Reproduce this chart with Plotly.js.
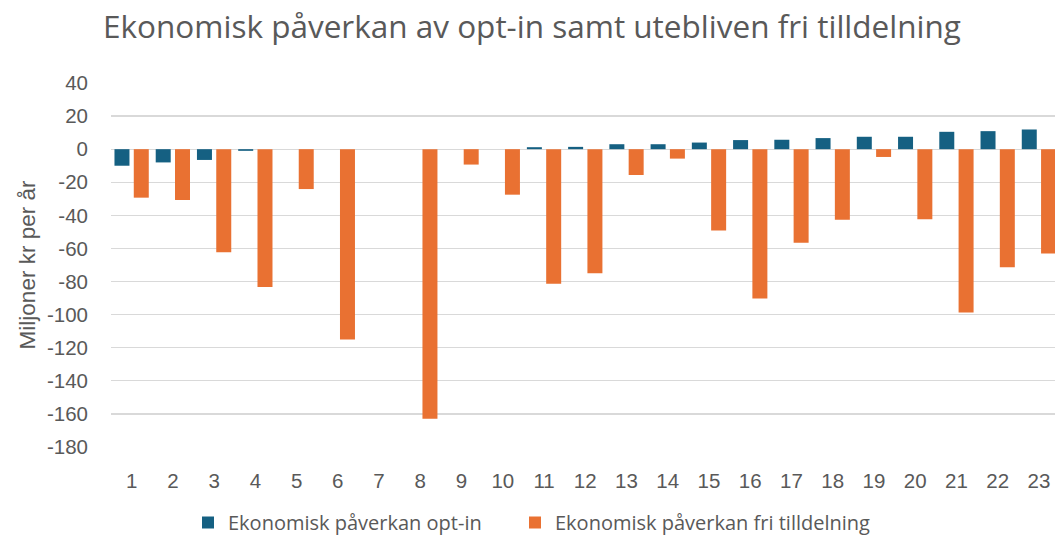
<!DOCTYPE html>
<html>
<head>
<meta charset="utf-8">
<script src="https://cdn.plot.ly/plotly-3.0.1.min.js"></script>
<style>html,body{margin:0;padding:0;background:#fff;}#chart{width:1055px;height:542px;}</style>
</head>
<body>
<div id="chart"></div>
<script>
const categories = ["1","2","3","4","5","6","7","8","9","10","11","12","13","14","15","16","17","18","19","20","21","22","23"];
const optIn = [-10, -8, -6.5, -1, 0, 0, 0, 0, 0, 0, 1.2, 1.4, 3, 3, 4, 5.5, 5.7, 6.7, 7.5, 7.5, 10.5, 10.9, 11.9];
const friTilldelning = [-29.3, -30.7, -62.3, -83.3, -24.1, -115.1, 0, -163, -9.3, -27.5, -81.3, -75, -15.6, -5.7, -49.2, -90.2, -56.6, -42.7, -4.7, -42.3, -98.7, -71.4, -63.1];
const seriesNames = ["Ekonomisk påverkan opt-in", "Ekonomisk påverkan fri tilldelning"];
const yTicks = [40, 20, 0, -20, -40, -60, -80, -100, -120, -140, -160, -180];

const textColor = "#595959";
const traces = [
  {type: "bar", name: seriesNames[0], x: categories, y: optIn, legend: "legend",
   marker: {color: "#156082", line: {width: 0}}},
  {type: "bar", name: seriesNames[1], x: categories, y: friTilldelning, legend: "legend2",
   marker: {color: "#E97132", line: {width: 0}}}
];
const legendFont = {family: "Open Sans, sans-serif", size: 20, color: textColor};
const layout = {
  width: 1055, height: 542,
  margin: {l: 111, r: 0, t: 83, b: 95},
  paper_bgcolor: "#fff", plot_bgcolor: "#fff",
  barmode: "group", bargap: 0.064, bargroupgap: 0.223,
  title: {text: "Ekonomisk påverkan av opt-in samt utebliven fri tilldelning",
          font: {family: "Open Sans, sans-serif", size: 31.5, color: textColor},
          x: 103/1055, xanchor: "left", xref: "container", y: 0.950, yref: "container", yanchor: "middle"},
  xaxis: {type: "category", range: [-0.5, 22.39],
          tickfont: {family: "Liberation Sans, Arial, sans-serif", size: 20.5, color: textColor},
          showgrid: false, zeroline: false, showline: false, ticks: "", ticklabelstandoff: 19},
  yaxis: {range: [-180, 40], tickvals: yTicks, ticktext: yTicks.map(String),
          tickfont: {family: "Liberation Sans, Arial, sans-serif", size: 20.5, color: textColor},
          showgrid: true, gridcolor: "#d9d9d9", gridwidth: 1.3,
          zeroline: true, zerolinecolor: "#d9d9d9", zerolinewidth: 1.3,
          showline: false, ticks: "", ticklabelstandoff: 22,
          title: {text: "Miljoner kr per år", font: {family: "Liberation Sans, Arial, sans-serif", size: 22.5, color: textColor}, standoff: 5}},
  legend: {orientation: "h", x: 188/1055, xanchor: "left", xref: "container", y: 0, yref: "container", yanchor: "bottom",
           font: legendFont, itemwidth: 30},
  legend2: {orientation: "h", x: 515/1055, xanchor: "left", xref: "container", y: 0, yref: "container", yanchor: "bottom",
           font: legendFont, itemwidth: 30},
  showlegend: true
};
Plotly.newPlot("chart", traces, layout, {displayModeBar: false, staticPlot: true});
</script>
</body>
</html>
